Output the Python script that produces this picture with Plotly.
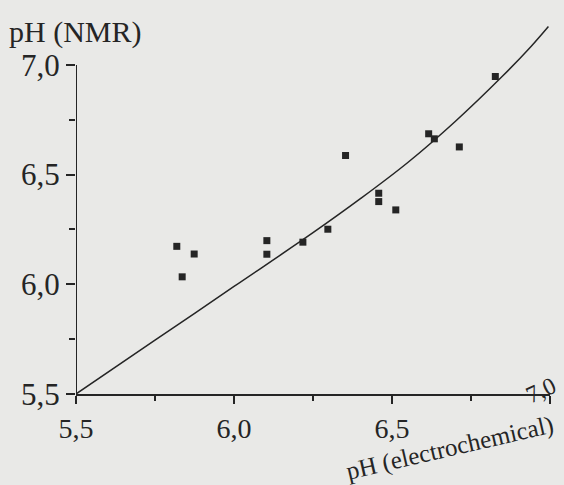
import plotly.graph_objects as go

# Measured points: pH (electrochemical) vs pH (NMR)
ph_electro = [5.819, 5.836, 5.874, 6.104, 6.104, 6.218, 6.297, 6.353,
              6.458, 6.458, 6.512, 6.616, 6.634, 6.713, 6.827]
ph_nmr = [6.173, 6.034, 6.138, 6.199, 6.137, 6.192, 6.251, 6.587,
          6.415, 6.377, 6.339, 6.686, 6.663, 6.626, 6.947]

# Reference curve
curve_x = [5.5, 5.75, 6.0, 6.25, 6.4, 6.55, 6.7, 6.85, 6.94, 6.995]
curve_y = [5.5, 5.745, 5.99, 6.235, 6.39, 6.555, 6.742, 6.949, 7.084, 7.175]

tick_vals = [5.5, 6.0, 6.5, 7.0]
x_tick_text = ["5,5", "6,0", "6,5", ""]
y_tick_text = ["5,5", "6,0", "6,5", "7,0"]

ink = "#252525"
paper = "#e9e9e7"
font_family = "Liberation Serif"

fig = go.Figure()
fig.add_trace(go.Scatter(x=curve_x, y=curve_y, mode="lines",
                         line=dict(color=ink, width=1.5, shape="spline", smoothing=1.0),
                         hoverinfo="skip", showlegend=False))
fig.add_trace(go.Scatter(x=ph_electro, y=ph_nmr, mode="markers",
                         marker=dict(symbol="square", size=7, color=ink),
                         showlegend=False))

# y axis line only from 5.5 to 7.0
fig.add_shape(type="line", xref="x", yref="y", x0=5.5, x1=5.5, y0=5.5, y1=7.0,
              line=dict(color=ink, width=2))

fig.update_layout(
    width=564, height=485,
    margin=dict(l=76, r=14, t=21, b=91),
    paper_bgcolor=paper, plot_bgcolor=paper,
    separators=", ",
    font=dict(family=font_family, size=29, color=ink),
    xaxis=dict(range=[5.5, 7.0], tickvals=tick_vals, ticktext=x_tick_text,
               showgrid=False, zeroline=False, showline=True, linecolor=ink,
               linewidth=2, ticks="outside", ticklen=8, tickwidth=2, tickcolor=ink,
               minor=dict(dtick=0.25, tick0=5.5, ticks="outside", ticklen=5,
                          tickwidth=2, tickcolor=ink, showgrid=False),
               tickfont=dict(size=28, color=ink, family=font_family)),
    yaxis=dict(range=[5.5, 7.2], tickvals=tick_vals, ticktext=y_tick_text,
               showgrid=False, zeroline=False, showline=False,
               ticks="outside", ticklen=9, tickwidth=2, tickcolor=ink,
               minor=dict(dtick=0.25, tick0=5.5, ticks="outside", ticklen=6,
                          tickwidth=2, tickcolor=ink, showgrid=False),
               tickfont=dict(size=31, color=ink, family=font_family)),
    annotations=[
        dict(text="pH (NMR)", xref="paper", yref="paper", x=-0.145, y=0.97,
             xanchor="left", yanchor="middle", showarrow=False,
             font=dict(size=30, color=ink, family=font_family)),
        dict(text="pH (electrochemical)", xref="paper", yref="paper",
             x=0.79, y=-0.145, xanchor="center", yanchor="middle",
             textangle=-13, showarrow=False,
             font=dict(size=25, color=ink, family=font_family)),
        dict(text="7,0", xref="paper", yref="paper", x=0.982, y=0.01,
             xanchor="center", yanchor="middle", textangle=-25, showarrow=False,
             font=dict(size=24, color=ink, family=font_family)),
    ],
)

fig.write_html("out.html", config={"displayModeBar": False},
               post_script="document.body.style.margin='0';")
